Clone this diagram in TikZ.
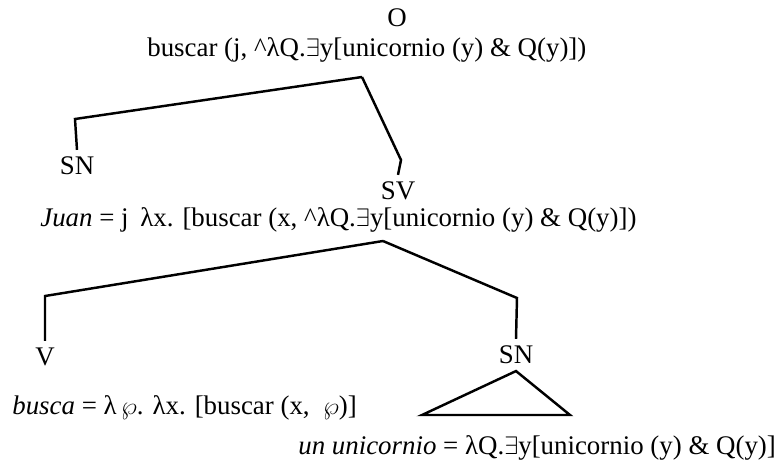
\documentclass[tikz,border=0pt]{standalone}
\usepackage{fontspec}
\setmainfont{Liberation Serif}
\begin{document}
\begin{tikzpicture}[x=0.02cm,y=-0.02cm,font=\fontsize{15.3}{18}\selectfont,
  cat/.style={inner sep=2pt,outer sep=2pt},
  sem/.style={anchor=base west,inner sep=0pt},
  branch/.style={line width=1.4pt,line join=miter}]
\useasboundingbox (0,0) rectangle (778,464);
\node[cat] (o) at (397,18) {O};
\node[sem] (semo) at (147,56) {buscar (j, \textasciicircum λQ.$\exists$y[unicornio (y) \& Q(y)])};
\node[cat] (sn1) at (77,166) {SN};
\node[cat] (sv) at (398,191) {SV};
\node[sem] (semsn1) at (40,226) {\textit{Juan} = j};
\node[sem] (semsv) at (140,226) {λx. [buscar (x, \textasciicircum λQ.$\exists$y[unicornio (y) \& Q(y)])};
\node[cat] (v) at (45,357) {V};
\node[cat] (sn2) at (516,355) {SN};
\node[sem] (semv) at (12,414) {\textit{busca} = λ\,$\wp$. λx. [buscar (x, \ $\wp$)]};
\node[sem] (semsn2) at (298,454) {\textit{un unicornio} = λQ.$\exists$y[unicornio (y) \& Q(y)]};
\coordinate (ohead) at (362,77);
\coordinate (snbend) at (75,119);
\coordinate (svbend) at (401,160);
\coordinate (svhead) at (383,241);
\coordinate (vbend) at (45,296);
\coordinate (snbend2) at (517,298);
\coordinate (triL) at (422,415);
\coordinate (triR) at (570,415);
\draw[branch] (ohead) -- (snbend) -- (sn1.north);
\draw[branch] (ohead) -- (svbend) -- (sv.north);
\draw[branch] (svhead) -- (vbend) -- (v.north);
\draw[branch] (svhead) -- (snbend2) -- (sn2.north);
\draw[branch] (sn2.south) -- (triL) -- (triR) -- cycle;
\end{tikzpicture}
\end{document}
